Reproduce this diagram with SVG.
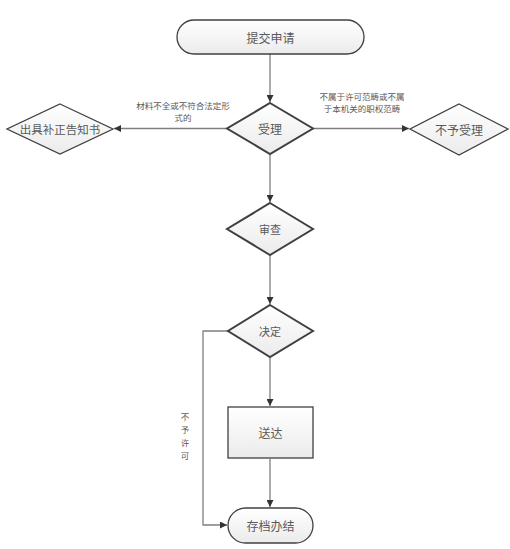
<svg xmlns="http://www.w3.org/2000/svg" width="510" height="549" viewBox="0 0 510 549">
<style>
.n{fill:url(#g);stroke:#404040;stroke-width:1.3}
.b{stroke-width:2}
.t{font-family:"Noto Sans CJK SC","Liberation Sans",sans-serif;fill:#595959;text-anchor:middle;dominant-baseline:central}
.e{stroke:#7f7f7f;stroke-width:1.3;fill:none;marker-end:url(#a)}
.l{font-family:"Noto Sans CJK SC","Liberation Sans",sans-serif;fill:#595959;font-size:8.5px;text-anchor:middle}
</style>
<defs>
<linearGradient id="g" x1="0" y1="0" x2="0" y2="1"><stop offset="0" stop-color="#ffffff"/><stop offset="1" stop-color="#ebebeb"/></linearGradient>
<marker id="a" viewBox="0 0 10 10" refX="10" refY="5" markerWidth="7" markerHeight="7" orient="auto" markerUnits="userSpaceOnUse"><path d="M0,0L10,5L0,10z" fill="#333"/></marker>
</defs>
<rect width="510" height="549" fill="#fff"/>
<g id="edges">
<path class="e" d="M270,54V102"/>
<path class="e" d="M228,128.5H114"/>
<path class="e" d="M313,128.5H409"/>
<path class="e" d="M270,155V202"/>
<path class="e" d="M270,256V304"/>
<path class="e" d="M270,357V406"/>
<path class="e" d="M270,459V507"/>
<path class="e" d="M228,331H203V525H227"/>
<text class="l" x="183" y="109">材料不全或不符合法定形</text>
<text class="l" x="183" y="121">式的</text>
<text class="l" x="362" y="100">不属于许可范畴或不属</text>
<text class="l" x="362" y="112">于本机关的职权范畴</text>
<text class="l" x="185" y="420">不</text>
<text class="l" x="185" y="433">予</text>
<text class="l" x="185" y="446">许</text>
<text class="l" x="185" y="459">可</text>
</g>
<g id="n1"><rect class="n" x="177" y="20" width="187" height="34" rx="17"/><text class="t" x="270.5" y="37" font-size="12">提交申请</text></g>
<g id="n2"><path class="n b" d="M270,103L313,128.5L270,154L227,128.5Z"/><text class="t" x="270" y="128.5" font-size="12">受理</text></g>
<g id="n3"><path class="n" d="M60,104L113,129L60,154L7,129Z"/><text class="t" x="60" y="129" font-size="11.5">出具补正告知书</text></g>
<g id="n4"><path class="n" d="M459,104L508,129L459,155L410,129Z"/><text class="t" x="459" y="129" font-size="12">不予受理</text></g>
<g id="n5"><path class="n b" d="M270,203L313,229L270,255L227,229Z"/><text class="t" x="270" y="229" font-size="11">审查</text></g>
<g id="n6"><path class="n b" d="M270,305L313,331L270,357L228,331Z"/><text class="t" x="270" y="331" font-size="11">决定</text></g>
<g id="n7"><rect class="n" x="228" y="407" width="85" height="51" stroke-width="2.5"/><text class="t" x="270.5" y="432.5" font-size="12">送达</text></g>
<g id="n8"><rect class="n" x="228" y="508" width="85" height="35" rx="17.5"/><text class="t" x="270.5" y="525.5" font-size="12">存档办结</text></g>
</svg>
